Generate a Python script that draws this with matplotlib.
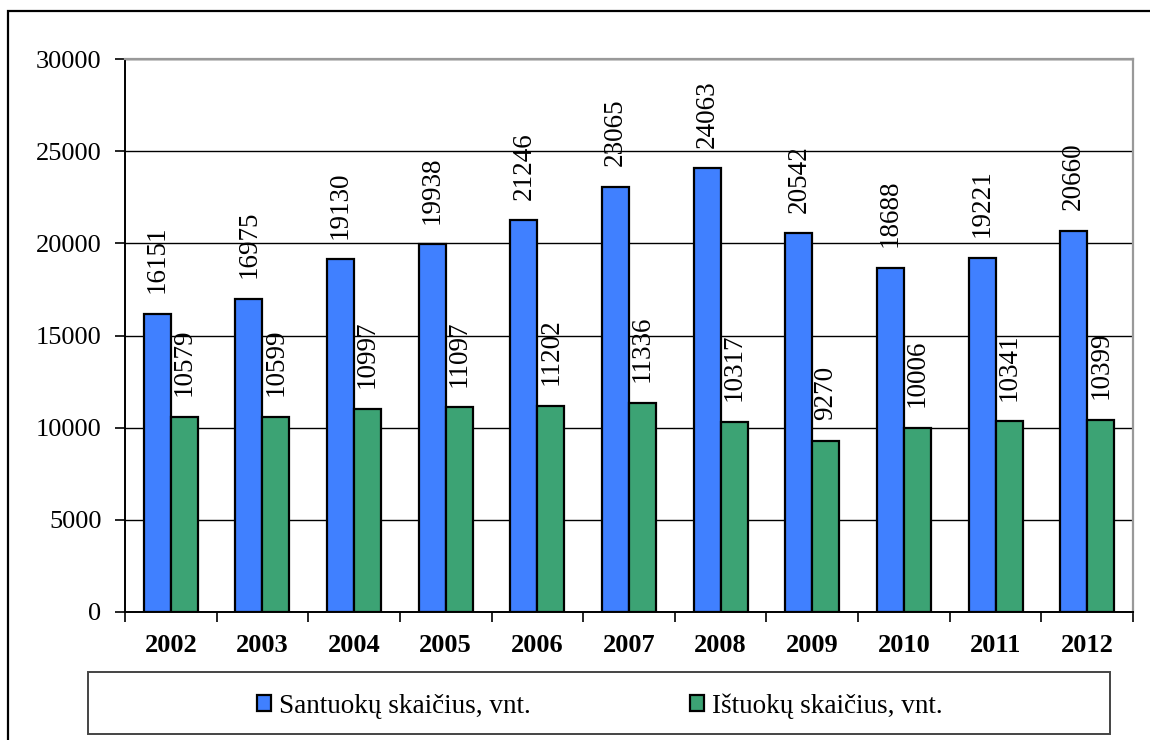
import matplotlib
matplotlib.use("Agg")
import matplotlib.pyplot as plt
import matplotlib.patches as mpatches
import numpy as np

years = ["2002", "2003", "2004", "2005", "2006", "2007", "2008", "2009", "2010", "2011", "2012"]
marriages = [16151, 16975, 19130, 19938, 21246, 23065, 24063, 20542, 18688, 19221, 20660]
divorces = [10579, 10599, 10997, 11097, 11202, 11336, 10317, 9270, 10006, 10341, 10399]
series_names = ["Santuokų skaičius, vnt.", "Ištuokų skaičius, vnt."]
yticks = [0, 5000, 10000, 15000, 20000, 25000, 30000]

plt.rcParams["font.family"] = ["Liberation Serif", "DejaVu Serif"]

W, H = 1150, 740
fig = plt.figure(figsize=(W / 100, H / 100), dpi=100)

# outer chart frame (runs past the right and bottom edges)
fig.patches.append(mpatches.Rectangle((8 / W, -0.2), 1.5, 1.2 - 11 / H,
                                      transform=fig.transFigure, fill=False,
                                      edgecolor="black", linewidth=1.6))

ax = fig.add_axes([125 / W, 1 - 612 / H, 1008 / W, 553 / H])

x = np.arange(len(years))
bw = 0.295
blue = "#4080ff"
green = "#3ca374"

b1 = ax.bar(x - bw / 2, marriages, bw, color=blue, edgecolor="black", linewidth=1.6, zorder=3,
            label=series_names[0])
b2 = ax.bar(x + bw / 2, divorces, bw, color=green, edgecolor="black", linewidth=1.6, zorder=3,
            label=series_names[1])

for bars, vals in ((b1, marriages), (b2, divorces)):
    for r, v in zip(bars, vals):
        ax.annotate(str(v), (r.get_x() + r.get_width() / 2, v), xytext=(0, 15),
                    textcoords="offset points", rotation=90, ha="center", va="bottom",
                    fontsize=19.5, zorder=4)

ax.set_xlim(-0.5, len(years) - 0.5)
ax.set_ylim(0, 30000)
ax.set_yticks(yticks)
ax.set_yticklabels([str(t) for t in yticks], fontsize=19)
ax.tick_params(axis="y", direction="out", length=7, width=1.2, pad=10)

ax.set_xticks(x)
ax.set_xticklabels(years, fontsize=19, fontweight="bold")
ax.set_xticks(np.arange(len(years) + 1) - 0.5, minor=True)
ax.tick_params(axis="x", which="major", length=0, pad=16)
ax.tick_params(axis="x", which="minor", direction="out", length=7, width=1.2)

ax.yaxis.grid(True, color="black", linewidth=1.0, zorder=0)
ax.set_axisbelow(True)

ax.spines["left"].set_color("black")
ax.spines["left"].set_linewidth(1.4)
ax.spines["bottom"].set_color("black")
ax.spines["bottom"].set_linewidth(1.4)
ax.spines["top"].set_color("#999999")
ax.spines["top"].set_linewidth(1.6)
ax.spines["right"].set_color("#999999")
ax.spines["right"].set_linewidth(1.6)

# legend box
fig.patches.append(mpatches.Rectangle((88 / W, 1 - 734 / H), 1022 / W, 62 / H,
                                      transform=fig.transFigure, fill=False,
                                      edgecolor="#444444", linewidth=1.4))
fig.legend(handles=[b1, b2], labels=series_names, loc="center",
           bbox_to_anchor=(600 / W, 1 - 706 / H), ncol=2, frameon=False,
           fontsize=19.5, handlelength=0.5, handleheight=0.5, handletextpad=0.3,
           columnspacing=5.9)

fig.savefig("out.png", dpi=100)
